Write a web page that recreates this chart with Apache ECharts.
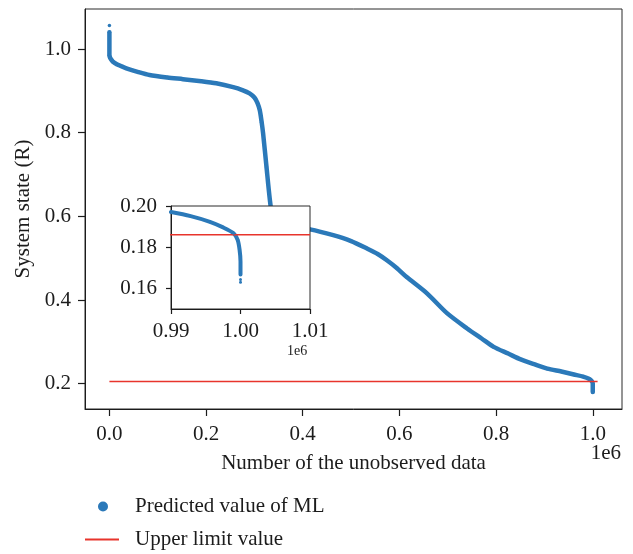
<!DOCTYPE html>
<html>
<head>
<meta charset="utf-8">
<script src="https://cdn.jsdelivr.net/npm/echarts@6/dist/echarts.min.js"></script>
<style>
  html, body { margin: 0; padding: 0; background: #fff; }
  #chart { width: 633px; height: 554px; }
</style>
</head>
<body>
<div id="chart"></div>
<script>
// Predicted system state vs. number of unobserved data (x in raw counts)
// A null entry breaks the curve so isolated points stay isolated.
const mainX = [0, null, 0, 0, 7000, 20000, 35000, 60000, 83000, 120000, 152000, 190000,
  221000, 256000, 275000, 290000, 300000, 306000, 311000, 315000, 318000, 325000,
  332000, 337000, 345000, 370000, 415000, 463000, 500000, 533000, 555000, 574000,
  595000, 615000, 657000, 699000, 740000, 770000, 795000, 825000, 851000, 880000,
  906000, 935000, 961000, 980000, 992000, 998000, 1000000, 1000000];
const mainY = [1.056, null, 1.040, 0.985, 0.970, 0.961, 0.954, 0.945, 0.938, 0.932, 0.928, 0.923,
  0.918, 0.909, 0.902, 0.894, 0.884, 0.872, 0.854, 0.825, 0.798, 0.718,
  0.639, 0.600, 0.585, 0.577, 0.569, 0.555, 0.541, 0.523, 0.510, 0.495,
  0.476, 0.455, 0.416, 0.368, 0.332, 0.308, 0.288, 0.272, 0.258, 0.246,
  0.236, 0.229, 0.222, 0.217, 0.212, 0.206, 0.200, 0.180];

// Zoomed view of the tail end of the prediction
const insetX = [990000, 992700, 995600, 997500, 999000, 999600, 999870, 1000000, 1000000,
  null, 1000000, null, 1000000];
const insetY = [0.1971, 0.1952, 0.1923, 0.1896, 0.1868, 0.1835, 0.1787, 0.1731, 0.1668,
  null, 0.1643, null, 0.1630];

// Upper limit line
const limitX = [0, 1010000];
const limitMain = 0.205;
const limitInset = 0.186;

// Tick positions
const mainXTicks = [0, 200000, 400000, 600000, 800000, 1000000];
const mainYTicks = [0.2, 0.4, 0.6, 0.8, 1.0];
const insetXTicks = [990000, 1000000, 1010000];
const insetYTicks = [0.16, 0.18, 0.20];

const seriesName = 'Predicted value of ML';
const limitName = 'Upper limit value';
const xTitle = 'Number of the unobserved data';
const yTitle = 'System state (R)';
const offsetText = '1e6';

const FONT = '"Liberation Serif", "DejaVu Serif", serif';
const FS = 21;
const INK = '#1c1c1c';
const BLUE = '#2b79b9';
const RED = '#e8342c';

function pairs(xs, ys) {
  return xs.map((x, i) => (x === null || ys[i] === null) ? null : [x, ys[i]]);
}

const tickStyle = { show: true, inside: false, length: 7, lineStyle: { color: INK, width: 1.2 } };
const lineAxis = { show: true, onZero: false, lineStyle: { color: INK, width: 1 } };
const labelText = { fontSize: FS, color: INK, fontFamily: FONT };

const chart = echarts.init(document.getElementById('chart'), null, { renderer: 'canvas' });

chart.setOption({
  animation: false,
  backgroundColor: '#fff',
  textStyle: { fontFamily: FONT },
  grid: [
    { left: 85, top: 9, width: 537, height: 400, show: true, borderColor: '#2a2a2a', borderWidth: 1,
      backgroundColor: 'transparent', containLabel: false },
    { left: 171, top: 206, width: 139, height: 103, show: true, borderColor: '#2a2a2a', borderWidth: 1,
      backgroundColor: '#fff', containLabel: false, z: 10 }
  ],
  xAxis: [
    {
      gridIndex: 0, type: 'value', min: -50500, max: 1060500,
      axisLine: lineAxis, splitLine: { show: false },
      axisTick: Object.assign({ customValues: mainXTicks }, tickStyle),
      axisLabel: Object.assign({ customValues: mainXTicks, margin: 15,
        formatter: v => (v / 1e6).toFixed(1) }, labelText),
      name: xTitle, nameLocation: 'middle', nameGap: 44,
      nameTextStyle: labelText
    },
    {
      gridIndex: 1, type: 'value', min: 990000, max: 1010000, z: 11,
      axisLine: lineAxis, splitLine: { show: false },
      axisTick: Object.assign({ customValues: insetXTicks }, tickStyle, { length: 5 }),
      axisLabel: Object.assign({ customValues: insetXTicks, margin: 12,
        formatter: v => (v / 1e6).toFixed(2) }, labelText)
    }
  ],
  yAxis: [
    {
      gridIndex: 0, type: 'value', min: 0.1395, max: 1.0957,
      axisLine: lineAxis, splitLine: { show: false },
      axisTick: Object.assign({ customValues: mainYTicks }, tickStyle),
      axisLabel: Object.assign({ customValues: mainYTicks, margin: 14,
        formatter: v => v.toFixed(1) }, labelText),
      name: yTitle, nameLocation: 'middle', nameGap: 51,
      nameTextStyle: labelText
    },
    {
      gridIndex: 1, type: 'value', min: 0.15, max: 0.20, z: 11,
      axisLine: lineAxis, splitLine: { show: false },
      axisTick: Object.assign({ customValues: insetYTicks }, tickStyle, { length: 5 }),
      axisLabel: Object.assign({ customValues: insetYTicks, margin: 14,
        formatter: v => v.toFixed(2) }, labelText)
    }
  ],
  legend: [
    {
      orient: 'vertical', left: 93, top: 491,
      itemWidth: 34, itemHeight: 10,
      textStyle: Object.assign({ padding: [0, 0, 0, 10] }, labelText),
      data: [{ name: seriesName, icon: 'circle' }]
    },
    {
      orient: 'vertical', left: 80, top: 524,
      itemWidth: 34, itemHeight: 2,
      textStyle: Object.assign({ padding: [0, 0, 0, 11] }, labelText),
      data: [{ name: limitName, icon: 'rect' }]
    }
  ],
  graphic: [
    { type: 'text', right: 12, top: 443, z: 20,
      style: { text: offsetText, font: FS + 'px ' + FONT, fill: INK } },
    { type: 'text', left: 287, top: 344, z: 20,
      style: { text: offsetText, font: '14px ' + FONT, fill: INK } }
  ],
  series: [
    {
      name: seriesName, type: 'line', xAxisIndex: 0, yAxisIndex: 0,
      data: pairs(mainX, mainY), connectNulls: false, smooth: 0.25,
      symbol: 'circle', symbolSize: 3.5, showSymbol: true, showAllSymbol: true,
      itemStyle: { color: BLUE }, lineStyle: { color: BLUE, width: 4.5, join: 'round', cap: 'round' },
      z: 2, silent: true
    },
    {
      name: limitName, type: 'line', xAxisIndex: 0, yAxisIndex: 0,
      data: limitX.map(x => [x, limitMain]), symbol: 'none',
      lineStyle: { color: RED, width: 1.5 }, itemStyle: { color: RED }, z: 3, silent: true
    },
    {
      name: seriesName, type: 'line', xAxisIndex: 1, yAxisIndex: 1,
      data: pairs(insetX, insetY), connectNulls: false, smooth: 0.25,
      symbol: 'circle', symbolSize: 3, showSymbol: true, showAllSymbol: true,
      itemStyle: { color: BLUE }, lineStyle: { color: BLUE, width: 4, join: 'round', cap: 'round' },
      z: 12, silent: true
    },
    {
      name: limitName, type: 'line', xAxisIndex: 1, yAxisIndex: 1,
      data: limitX.map(x => [x, limitInset]), symbol: 'none',
      lineStyle: { color: RED, width: 1.5 }, itemStyle: { color: RED }, z: 12, silent: true
    }
  ]
});
</script>
</body>
</html>
